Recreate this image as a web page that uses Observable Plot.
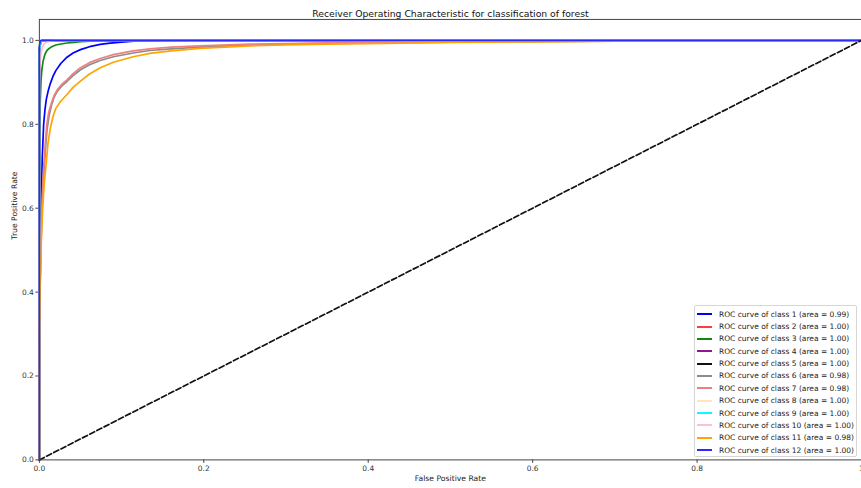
<!DOCTYPE html>
<html>
<head>
<meta charset="utf-8">
<script src="https://cdn.jsdelivr.net/npm/d3@7"></script>
<script src="https://cdn.jsdelivr.net/npm/@observablehq/plot@0.6"></script>
<style>
html, body { margin: 0; padding: 0; overflow: hidden; background: #fff; }
#wrap { position: relative; width: 861px; height: 488px; overflow: hidden; }
#legend { position: absolute; left: 694px; top: 305px; width: 163px; height: 152px;
  border: 1px solid #d6d6d6; border-radius: 2px; background: rgba(255,255,255,0.85);
  box-sizing: border-box; padding-top: 2px; font-family: "DejaVu Sans", sans-serif; font-size: 7.5px; color: #222; }
.row { height: 12.36px; display: flex; align-items: center; white-space: nowrap; }
.sw { width: 15px; height: 0; border-top: 2px solid; margin-left: 2px; margin-right: 7px; }
</style>
</head>
<body>
<div id="wrap"></div>
<script>
const title = "Receiver Operating Characteristic for classification of forest";
const classes = ["1","2","3","4","5","6","7","8","9","10","11","12"];
const areas = ["0.99","1.00","1.00","1.00","1.00","0.98","0.98","1.00","1.00","1.00","0.98","1.00"];
const colors = ["#0000ff","#ff3b3b","#118811","#8b1a8b","#111111","#8c8c8c","#f08080","#ffe4c4","#00ffff","#ffc0cb","#ffa500","#2a2aff"];
const xTicks = [0, 0.2, 0.4, 0.6, 0.8, 1.0];
const xTickLabels = ["0.0","0.2","0.4","0.6","0.8","1"];
const yTicks = [0, 0.2, 0.4, 0.6, 0.8, 1.0];

// ROC points (false positive rate, true positive rate) per class
const fpr1 = [0, 0, 0.001, 0.0024, 0.0035, 0.0052, 0.0068, 0.0085, 0.011, 0.0133, 0.0165, 0.02, 0.026, 0.0336, 0.041, 0.05, 0.061, 0.074, 0.086, 0.1, 0.115, 0.13, 0.145, 0.16, 1];
const tpr1 = [0, 0.5, 0.55, 0.62, 0.72, 0.8, 0.835, 0.86, 0.882, 0.897, 0.914, 0.928, 0.945, 0.96, 0.97, 0.978, 0.985, 0.9905, 0.9935, 0.996, 0.998, 0.999, 0.9997, 1, 1];
const fpr2 = [0, 0, 0.001, 0.003, 1];
const tpr2 = [0, 0.97, 0.995, 1, 1];
const fpr3 = [0, 0, 0.0005, 0.001, 0.002, 0.003, 0.0045, 0.006, 0.0075, 0.0093, 0.012, 0.015, 0.02, 0.026, 0.034, 0.042, 0.05, 0.062, 0.074, 0.095, 0.12, 1];
const tpr3 = [0, 0.6, 0.76, 0.85, 0.905, 0.93, 0.95, 0.962, 0.97, 0.976, 0.981, 0.985, 0.989, 0.9915, 0.9938, 0.9955, 0.997, 0.9982, 0.999, 0.9997, 1, 1];
const fpr4 = [0, 0, 0.001, 0.003, 1];
const tpr4 = [0, 0.975, 0.996, 1, 1];
const fpr5 = [0, 0, 0.002, 0.004, 1];
const tpr5 = [0, 0.98, 0.998, 1, 1];
const fpr6 = [0, 0, 0.001, 0.002, 0.003, 0.0045, 0.006, 0.0078, 0.0095, 0.012, 0.015, 0.018, 0.022, 0.027, 0.0336, 0.041, 0.05, 0.061, 0.074, 0.09, 0.114, 0.1345, 0.16, 0.195, 0.256, 0.3, 0.35, 0.42, 0.5, 0.6, 0.7, 0.85, 1];
const tpr6 = [0, 0.25, 0.42, 0.51, 0.58, 0.65, 0.7, 0.75, 0.79, 0.822, 0.847, 0.865, 0.879, 0.891, 0.902, 0.916, 0.93, 0.942, 0.952, 0.961, 0.97, 0.976, 0.98, 0.984, 0.989, 0.991, 0.993, 0.9947, 0.996, 0.9973, 0.998, 0.999, 1];
const fpr7 = [0, 0, 0.001, 0.002, 0.003, 0.0045, 0.006, 0.0075, 0.009, 0.0115, 0.015, 0.018, 0.022, 0.027, 0.0336, 0.041, 0.05, 0.061, 0.074, 0.09, 0.114, 0.1345, 0.16, 0.195, 0.256, 0.3, 0.35, 0.42, 0.5, 0.6, 0.7, 0.85, 1];
const tpr7 = [0, 0.25, 0.43, 0.53, 0.6, 0.67, 0.72, 0.765, 0.8, 0.83, 0.853, 0.869, 0.883, 0.895, 0.906, 0.921, 0.935, 0.947, 0.957, 0.966, 0.975, 0.98, 0.984, 0.987, 0.991, 0.9925, 0.994, 0.9955, 0.997, 0.998, 0.999, 0.9995, 1];
const fpr8 = [0, 0, 0.001, 0.003, 1];
const tpr8 = [0, 0.97, 0.994, 1, 1];
const fpr9 = [0, 0, 0.001, 0.003, 1];
const tpr9 = [0, 0.975, 0.995, 1, 1];
const fpr10 = [0, 0, 0.001, 0.002, 0.0035, 0.005, 0.0075, 0.01, 0.014, 0.02, 1];
const tpr10 = [0, 0.9, 0.945, 0.97, 0.982, 0.99, 0.994, 0.997, 0.999, 1, 1];
const fpr11 = [0, 0, 0.001, 0.0025, 0.004, 0.006, 0.008, 0.0105, 0.0133, 0.0165, 0.02, 0.026, 0.0336, 0.041, 0.05, 0.061, 0.074, 0.09, 0.114, 0.1345, 0.16, 0.195, 0.256, 0.3, 0.35, 0.42, 0.5, 0.6, 0.7, 0.85, 1];
const tpr11 = [0, 0.3, 0.42, 0.53, 0.6, 0.66, 0.7, 0.755, 0.79, 0.818, 0.838, 0.855, 0.871, 0.888, 0.903, 0.92, 0.935, 0.948, 0.961, 0.969, 0.975, 0.981, 0.987, 0.9895, 0.991, 0.993, 0.995, 0.9967, 0.998, 0.999, 1];
const fpr12 = [0, 0, 0.001, 0.002, 1];
const tpr12 = [0, 0.985, 0.998, 1, 1];
const diagX = [0, 1];
const diagY = [0, 1];

const fprs = [fpr1, fpr2, fpr3, fpr4, fpr5, fpr6, fpr7, fpr8, fpr9, fpr10, fpr11, fpr12];
const tprs = [tpr1, tpr2, tpr3, tpr4, tpr5, tpr6, tpr7, tpr8, tpr9, tpr10, tpr11, tpr12];

const font = "DejaVu Sans, sans-serif";
const curveMarks = classes.map((c, i) =>
  Plot.line(fprs[i].map((x, j) => ({x, y: tprs[i][j]})), {x: "x", y: "y", stroke: colors[i], strokeWidth: 1.7, strokeLinejoin: "round"})
);

const chart = Plot.plot({
  width: 864,
  height: 488,
  marginLeft: 39,
  marginRight: 0,
  marginTop: 19,
  marginBottom: 27,
  style: {fontFamily: font, fontSize: "7.5px", color: "#333", background: "#fff", overflow: "visible"},
  x: {domain: [0, 1], label: null},
  y: {domain: [0, 1.05], label: null},
  marks: [
    Plot.axisX({ticks: xTicks, tickFormat: (d, i) => xTickLabels[i], tickSize: 3.5, tickPadding: 2, label: null, stroke: "#444", fill: "#333", fontSize: 7.5}),
    Plot.axisY({ticks: yTicks, tickFormat: d3.format(".1f"), tickSize: 3.5, tickPadding: 2, label: null, stroke: "#444", fill: "#333", fontSize: 7.5}),
    ...curveMarks,
    Plot.line(diagX.map((x, j) => ({x, y: diagY[j]})), {x: "x", y: "y", stroke: "#111", strokeWidth: 1.7, strokeDasharray: "5.5,2.6"}),
    Plot.frame({stroke: "#444", strokeWidth: 1}),
    Plot.text([title], {frameAnchor: "top", dy: -9, fontSize: 9.3, fill: "#111", fontFamily: font}),
    Plot.text(["False Positive Rate"], {frameAnchor: "bottom", dy: 21, fontSize: 7.7, fill: "#222", fontFamily: font}),
    Plot.text(["True Positive Rate"], {frameAnchor: "left", dx: -25, rotate: -90, fontSize: 7.7, fill: "#222", fontFamily: font})
  ]
});

const wrap = document.getElementById("wrap");
wrap.appendChild(chart);

const legend = document.createElement("div");
legend.id = "legend";
classes.forEach((c, i) => {
  const row = document.createElement("div");
  row.className = "row";
  const sw = document.createElement("span");
  sw.className = "sw";
  sw.style.borderTopColor = colors[i];
  const t = document.createElement("span");
  t.textContent = `ROC curve of class ${c} (area = ${areas[i]})`;
  row.appendChild(sw);
  row.appendChild(t);
  legend.appendChild(row);
});
wrap.appendChild(legend);
</script>
</body>
</html>
